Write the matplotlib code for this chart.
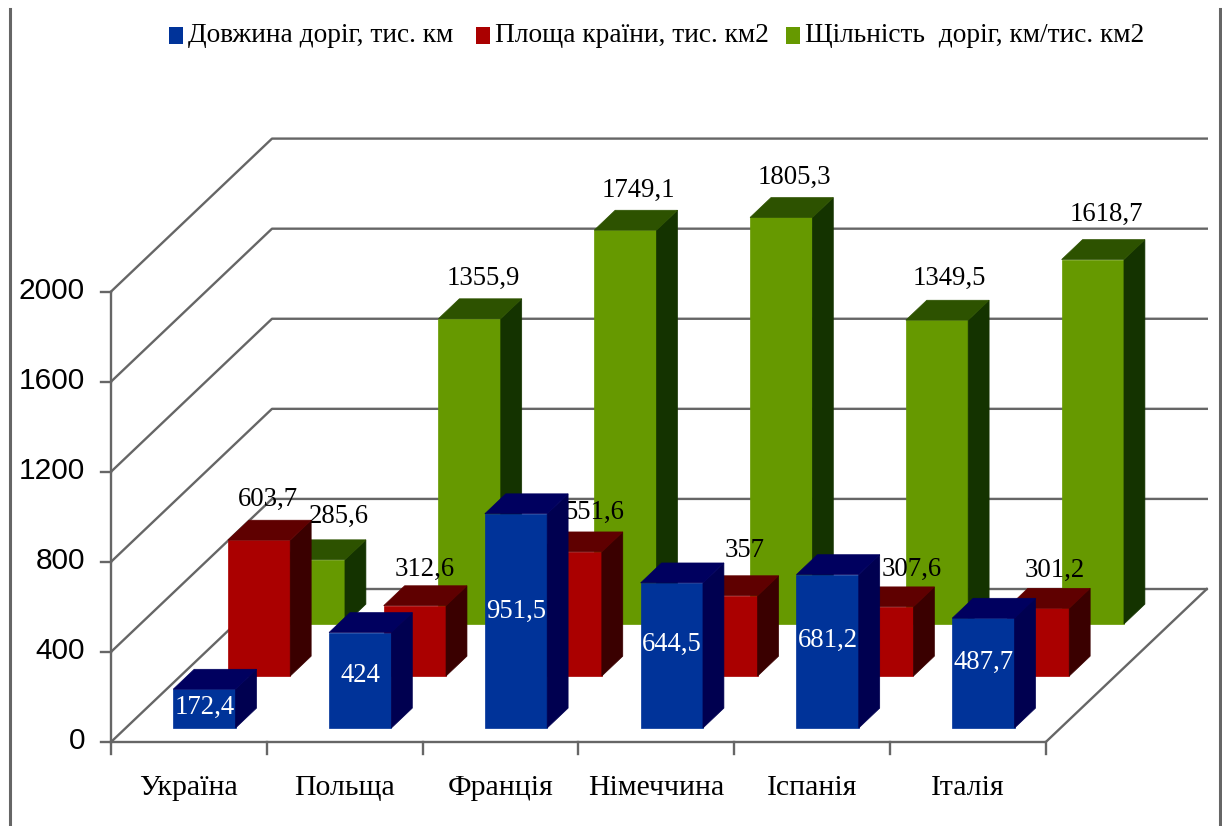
import matplotlib
matplotlib.use('Agg')
import matplotlib.pyplot as plt
from matplotlib.patches import Polygon, Rectangle

categories = ['Україна', 'Польща', 'Франція', 'Німеччина', 'Іспанія', 'Італія']
road_length = [172.4, 424, 951.5, 644.5, 681.2, 487.7]
country_area = [603.7, 312.6, 551.6, 357, 307.6, 301.2]
road_density = [285.6, 1355.9, 1749.1, 1805.3, 1349.5, 1618.7]
road_length_labels = ['172,4', '424', '951,5', '644,5', '681,2', '487,7']
country_area_labels = ['603,7', '312,6', '551,6', '357', '307,6', '301,2']
road_density_labels = ['285,6', '1355,9', '1749,1', '1805,3', '1349,5', '1618,7']
y_ticks = [0, 400, 800, 1200, 1600, 2000]
legend_labels = ['Довжина доріг, тис. км', 'Площа країни, тис. км2', 'Щільність  доріг, км/тис. км2']

SERIF = ['Liberation Serif', 'DejaVu Serif']
SANS = ['Liberation Sans', 'DejaVu Sans']
LINE = '#666666'


def project(x, d, v):
    # oblique projection: category position, depth 0..1, value -> pixels
    return 111 + 155.8 * x + 161 * d, 742 - 153 * d - 0.2252 * v


def draw_bar(ax, i, d, v, colors, z):
    x0, x1 = i + 0.305, i + 0.705
    d1 = d + 0.13
    front = [project(x0, d, 0), project(x1, d, 0), project(x1, d, v), project(x0, d, v)]
    side = [project(x1, d, 0), project(x1, d1, 0), project(x1, d1, v), project(x1, d, v)]
    top = [project(x0, d, v), project(x1, d, v), project(x1, d1, v), project(x0, d1, v)]
    for pts, c in zip([front, side, top], colors):
        ax.add_patch(Polygon(pts, closed=True, facecolor=c, edgecolor=c, linewidth=0.5, zorder=z))


fig = plt.figure(figsize=(12.22, 8.26), dpi=100)
ax = fig.add_axes([0, 0, 1, 1])
ax.set_xlim(0, 1222)
ax.set_ylim(826, 0)
ax.axis('off')

# outer frame
ax.plot([10, 10], [9, 826], color=LINE, lw=2.2, zorder=1)
ax.plot([1220, 1220], [9, 826], color=LINE, lw=2.2, zorder=1)

# walls and floor
for t in y_ticks:
    a = project(0, 0, t)
    b = project(0, 1, t)
    c = project(6, 1, t)
    ax.plot([a[0], b[0], c[0]], [a[1], b[1], c[1]], color=LINE, lw=1.7, zorder=1)
    ax.plot([a[0] - 10, a[0]], [a[1], a[1]], color=LINE, lw=1.7, zorder=1)
    ax.text(a[0] - 26, a[1] - 1, str(t), family=SANS, fontsize=21.5, color='black',
            ha='right', va='center', zorder=1)
f0, f1, b1 = project(0, 0, 0), project(6, 0, 0), project(6, 1, 0)
top_left = project(0, 0, y_ticks[-1])
ax.plot([f0[0], f1[0], b1[0]], [f0[1], f1[1], b1[1]], color=LINE, lw=1.7, zorder=1)
ax.plot([f0[0], top_left[0]], [f0[1], top_left[1]], color=LINE, lw=1.7, zorder=1)
for i in range(len(categories) + 1):
    px, py = project(i, 0, 0)
    ax.plot([px, px], [py, py + 12], color=LINE, lw=1.7, zorder=1)

# bars, back row first so the nearer rows cover the labels behind them
green = ['#669900', '#143300', '#2d5200']
red = ['#aa0000', '#3a0000', '#5f0000']
blue = ['#003399', '#000050', '#00005f']

green_dx, green_dy = [25, 14, 13, 13, 12, 14], [43, 40, 40, 40, 42, 45]
red_dx, red_dy = [9, 10, 24, 18, 29, 17], [41, 36, 39, 45, 37, 38]
blue_dy = [18, 43, 98, 62, 66, 44]

for i, v in enumerate(road_density):
    draw_bar(ax, i, 0.771, v, green, 2)
    px, py = project(i + 0.505, 0.771, v)
    ax.text(px + green_dx[i], py - green_dy[i], road_density_labels[i], family=SERIF, fontsize=19.3,
            color='black', ha='center', va='center', zorder=3)
for i, v in enumerate(country_area):
    draw_bar(ax, i, 0.431, v, red, 4)
    px, py = project(i + 0.505, 0.431, v)
    ax.text(px + red_dx[i], py - red_dy[i], country_area_labels[i], family=SERIF, fontsize=19.3,
            color='black', ha='center', va='center', zorder=5)
for i, v in enumerate(road_length):
    draw_bar(ax, i, 0.0915, v, blue, 6)
    px, py = project(i + 0.505, 0.0915, v)
    ax.text(px, py + blue_dy[i], road_length_labels[i], family=SERIF, fontsize=19.3,
            color='white', ha='center', va='center', zorder=7)

for i, name in enumerate(categories):
    px, py = project(i + 0.5, 0, 0)
    ax.text(px, py + 46, name, family=SERIF, fontsize=21.5, color='black', ha='center', va='center')

# legend
legend_x = [169, 476, 786]
for x, c, label in zip(legend_x, [blue[0], red[0], green[0]], legend_labels):
    ax.add_patch(Rectangle((x, 27), 14, 17, facecolor=c, edgecolor='none'))
    ax.text(x + 19, 35, label, family=SERIF, fontsize=19.7, color='black', ha='left', va='center')

fig.savefig('out.png', dpi=100)
